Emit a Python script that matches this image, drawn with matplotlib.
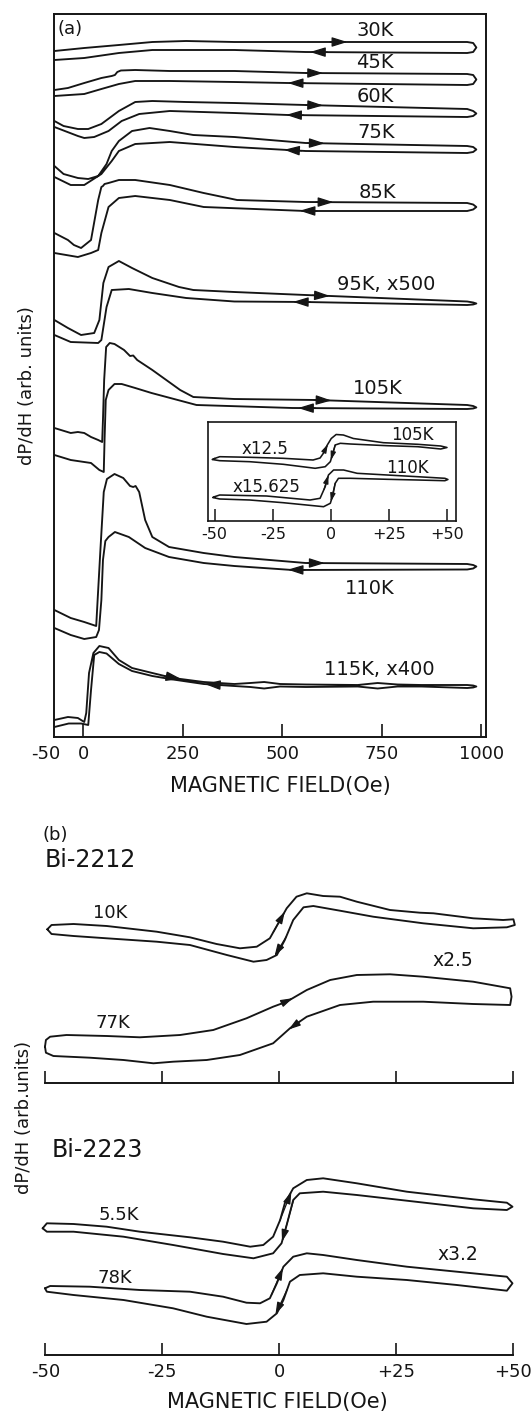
import numpy as np
import matplotlib
matplotlib.use('Agg')
import matplotlib.pyplot as plt
from matplotlib.transforms import ScaledTranslation

plt.rcParams['font.family'] = ['DejaVu Sans']
INK = '#151515'

# ---------------- (a) field sweeps up to 1000 Oe, dP/dH (arb. units, offset traces)
# branches: [field Oe, signal]; *_up = increasing field, *_dn = decreasing field
a30_up = [[-72, 686], [3, 689], [90, 692], [174, 695], [259, 696], [380, 695], [644, 695], [965, 695], [980, 694], [988, 689.5]]
a30_dn = [[980, 685], [965, 684], [559, 685], [380, 687], [174, 687], [90, 684], [3, 679], [-72, 677]]

a45_up = [[-72, 647], [-38, 649], [3, 654], [46, 659], [72, 661], [80, 662], [86, 665], [95, 666.5], [131, 667], [218, 666],
          [380, 666], [559, 664], [965, 663], [980, 662], [988, 657.5]]
a45_dn = [[980, 653], [965, 652], [515, 654], [380, 655], [218, 656], [131, 656], [90, 653], [46, 648], [3, 643], [-72, 641]]

a60_up = [[-72, 616], [-49, 611], [-13, 608], [13, 608], [46, 613], [90, 626], [131, 635], [174, 636], [259, 635], [380, 634],
          [559, 632], [965, 628], [980, 626], [988, 623.5]]
a60_dn = [[980, 621], [965, 620], [515, 622], [380, 624], [218, 626], [141, 623], [97, 616], [64, 606], [28, 600], [3, 599],
          [-13, 601], [-72, 610]]

a75_up = [[-72, 571], [-49, 563], [-13, 559], [13, 558], [38, 561], [59, 573], [72, 586], [90, 596], [123, 606], [167, 609],
          [218, 606], [277, 602], [380, 600], [559, 594], [965, 591], [980, 590], [988, 587.5]]
a75_dn = [[980, 585], [965, 584], [559, 586], [380, 590], [218, 595], [131, 593], [90, 586], [72, 576], [46, 563], [3, 552],
          [-31, 552], [-72, 560]]

a85_up = [[-72, 504], [-38, 497], [-23, 492], [-5, 489], [20, 497], [38, 537], [46, 550], [50, 551], [54, 553], [64, 554],
          [90, 557], [131, 557], [218, 552], [303, 544], [387, 537], [559, 535], [965, 534], [980, 532.5], [988, 530]]
a85_dn = [[980, 527.5], [965, 526], [559, 526], [303, 530], [218, 537], [131, 541], [90, 539], [64, 530], [46, 504], [38, 487],
          [20, 484], [-13, 480], [-72, 484]]

a95_up = [[-72, 417], [-38, 409], [-5, 402], [28, 404], [41, 417], [51, 454], [64, 470], [90, 476], [123, 469], [174, 459],
          [241, 450], [277, 447], [380, 445], [559, 442], [965, 435.5], [980, 434.5], [988, 433.5]]
a95_dn = [[980, 432.5], [965, 432], [559, 435], [380, 435.5], [259, 439], [174, 444], [115, 448], [72, 447], [59, 430],
          [46, 397], [38, 394], [-31, 395], [-72, 402]]

a105_up = [[-72, 309], [-31, 304], [-13, 305], [3, 304], [20, 300], [38, 297], [48, 295], [50, 317], [53, 357], [58, 390],
           [67, 394], [79, 393], [103, 387], [118, 381], [126, 381.5], [136, 377], [174, 367], [244, 347], [277, 340],
           [380, 338], [585, 337], [965, 332], [980, 331], [988, 329.5]]
a105_dn = [[980, 328.5], [965, 328], [526, 329], [285, 332], [172, 344], [131, 349], [97, 353], [79, 353], [64, 347],
           [57, 337], [54, 297], [52, 265], [41, 267], [20, 274], [-31, 277], [-72, 282]]

a110_up = [[-72, 127], [-31, 119], [3, 115], [33, 111], [37, 140], [44, 190], [52, 245], [60, 258], [79, 263], [101, 259],
           [118, 251], [126, 250], [132, 251], [141, 245], [156, 217], [174, 200], [216, 190], [303, 184], [380, 180],
           [559, 174], [965, 173], [980, 172], [988, 170.5]]
a110_dn = [[980, 168.5], [965, 167.5], [526, 167], [380, 171], [303, 174], [216, 180], [156, 189], [115, 200], [80, 205],
           [64, 200], [56, 196], [50, 177], [46, 137], [40, 107], [33, 100], [3, 98], [-31, 102], [-72, 109]]

a115_up = [[-72, 17], [-38, 20], [-13, 19], [3, 15], [8, 24], [15, 64], [26, 84], [41, 91], [64, 89], [90, 77], [123, 69],
           [174, 64], [226, 59], [303, 55], [380, 53], [420, 54], [455, 55], [495, 53], [560, 52.5], [690, 52], [740, 54],
           [790, 52.5], [850, 52], [965, 52], [980, 51.5], [988, 50.5]]
a115_dn = [[980, 49.5], [965, 49], [850, 50.5], [790, 50.5], [740, 48.5], [690, 50.5], [560, 50], [495, 50.5], [455, 48.5],
           [420, 50], [380, 51], [303, 53], [226, 57.5], [174, 61], [123, 66], [90, 73], [59, 83.5], [41, 85], [28, 82],
           [20, 47], [13, 12], [-5, 13.5], [-36, 13.5], [-72, 10]]

a_up = [a30_up, a45_up, a60_up, a75_up, a85_up, a95_up, a105_up, a110_up, a115_up]
a_dn = [a30_dn, a45_dn, a60_dn, a75_dn, a85_dn, a95_dn, a105_dn, a110_dn, a115_dn]
a_labels = ['30K', '45K', '60K', '75K', '85K', '95K, x500', '105K', '110K', '115K, x400']
a_arrow_up = [650, 589, 589, 593, 615, 606, 610, 593, 233]   # field of sweep arrows (Oe)
a_arrow_dn = [584, 528, 524, 519, 558, 541, 554, 528, 320]
a_ticks = [0, 250, 500, 750, 1000]

# inset of (a): +-50 Oe sweeps
i105_up = [[-50, 62.5], [-47.8, 64.3], [-34.9, 63.7], [-20.6, 62.7], [-7.7, 61], [-4.7, 63], [-2.9, 69], [-1.6, 76],
           [0.1, 82.5], [2.2, 86.5], [5.3, 86], [9.6, 82.5], [22.5, 78.3], [37.2, 76.7], [47.1, 75], [49.8, 73.5]]
i105_dn = [[47.1, 72], [37.2, 74.3], [24.2, 75.3], [8.3, 77], [4, 77.7], [1.8, 76], [0.8, 67.7], [-0.3, 59.3],
           [-2.5, 54.3], [-6.8, 52.7], [-20.5, 56.7], [-34.9, 59.3], [-47.8, 60.3], [-51, 61.5]]
i110_up = [[-50, 24.3], [-47.8, 26], [-27.7, 25], [-9, 21], [-4.7, 22.7], [-2.5, 34.3], [-1.1, 46], [1.1, 51], [5.4, 51],
           [11.2, 47.7], [24.1, 46], [37.1, 44.3], [48.9, 42.7], [50.2, 41.5]]
i110_dn = [[48.9, 40.3], [37.1, 41], [24.1, 41.7], [8.3, 42.7], [3.2, 42.7], [1.8, 37.7], [0.8, 26], [-0.3, 17.7],
           [-3.2, 14.3], [-20.5, 18.3], [-34.9, 21], [-47.8, 22], [-50.8, 23.5]]
i_arrow_up = [-2.3, -2.0]
i_arrow_dn = [0.8, 0.8]

# ---------------- (b) +-50 Oe sweeps
b10_up = [[-49.6, 154], [-48.7, 158.3], [-44, 159.3], [-36.9, 157.3], [-26.2, 151.6], [-19.1, 146], [-13.4, 139.3],
          [-8.4, 135], [-4.8, 136.6], [-2, 145], [-0.2, 160], [1.6, 175], [3.7, 186.6], [5.9, 190], [9.4, 187.3],
          [13, 186.6], [16.6, 181.6], [23.7, 173.3], [30.1, 170.6], [33, 170], [41.5, 165], [47.9, 163.3], [50.1, 164],
          [50.4, 158.3]]
b10_dn = [[48.7, 156], [41.5, 155], [30.8, 160], [20.1, 166.6], [13, 172.6], [7.3, 177.3], [5.2, 176], [3, 163.3],
          [1.2, 143.3], [-0.5, 128.3], [-2.7, 123.3], [-5.5, 121.6], [-11.2, 128.3], [-19.1, 138.3], [-26.2, 141.6],
          [-36.9, 145], [-44, 147.3], [-48.7, 149.3]]
b77_up = [[-50.1, 36.6], [-49.9, 43.3], [-49, 46.6], [-45.5, 48.3], [-36.9, 47.3], [-29.8, 46], [-21.2, 48.3],
          [-14.1, 53.3], [-7, 65], [-1.3, 76.6], [1.6, 81.6], [5.9, 93.3], [10.9, 103.3], [16.6, 108.3], [23.7, 109],
          [30.8, 106.6], [41.5, 101.6], [49.4, 95], [49.7, 86.6]]
b77_dn = [[49.4, 78.3], [41.5, 79.3], [30.8, 81.6], [20.1, 81.6], [13, 78.3], [5.9, 66.6], [2.3, 55], [-1.3, 40],
          [-8.4, 28.3], [-15.5, 23.3], [-22.7, 21.6], [-26.9, 20], [-33.3, 23.3], [-40.5, 25.6], [-48.3, 27.3],
          [-49.9, 30.6]]
b55_up = [[-50.6, 126.7], [-49.7, 131.7], [-44, 131], [-36.9, 128.3], [-29.8, 123.3], [-19.1, 117.7], [-12, 113.3],
          [-6.2, 108.3], [-3.4, 110], [-1.3, 118.3], [0.2, 135], [1.2, 151.7], [3, 166.7], [5.9, 175], [9.4, 176.7],
          [16.6, 171.7], [27.3, 163.3], [41.5, 155.7], [48.7, 152.3], [49.9, 148.3]]
b55_dn = [[48.7, 145], [41.5, 146.7], [27.3, 154.3], [16.6, 160], [9.4, 163.3], [4.4, 161.7], [3, 155], [1.6, 130],
          [0.5, 111.7], [-1.3, 101.7], [-5.5, 96.7], [-12, 101], [-22.7, 110], [-33.3, 118.3], [-44, 123.3],
          [-49.7, 123.3]]
b78_up = [[-50.1, 66.7], [-49, 69], [-40.5, 68.3], [-29.8, 65], [-19.1, 63.3], [-12, 58.3], [-7, 52.3], [-4.1, 51.7],
          [-2, 56.7], [-0.5, 71.7], [0.9, 88.3], [3, 98.3], [5.9, 101.7], [9.4, 100], [16.6, 95], [27.3, 88.3],
          [38, 83.3], [48.7, 78.3], [49.9, 71.7]]
b78_dn = [[48.7, 64.3], [38, 70], [27.3, 75], [16.6, 78.3], [9.4, 81.7], [4.4, 80], [2.3, 73.3], [0.9, 55], [-0.5, 41.7],
          [-2.7, 33.3], [-7, 31], [-15.5, 38.3], [-22.7, 46.7], [-33.3, 55], [-44, 60], [-49.7, 63.3]]
b_arrow_up = {'10K': 0.2, '77K': 1.9, '5.5K': 1.6, '78K': -0.2}
b_arrow_dn = {'10K': 0.0, '77K': 3.0, '5.5K': 1.6, '78K': 0.2}
b_ticks = [-50, -25, 0, 25, 50]
b_ticklabels = ['-50', '-25', '0', '+25', '+50']

# ---------------- helpers
W, H = 531, 1415


def box(l, t, r, b):
    return [l / W, 1 - b / H, (r - l) / W, (b - t) / H]


def branch_xy(br):
    a = np.asarray(br, float)
    return a[:, 0], a[:, 1]


def draw_loop(ax, up, dn, closed=False, lw=1.35):
    pts = list(up) + list(dn)
    if closed:
        pts.append(up[0])
    h, p = branch_xy(pts)
    ax.plot(h, p, color=INK, lw=lw, solid_joinstyle='round', solid_capstyle='round')


def sweep_arrow(ax, br, c, back, fwd, ms, rising=True):
    h, p = branch_xy(br)
    o = np.argsort(h)
    h, p = h[o], p[o]
    s = 1 if rising else -1
    t0, t1 = c - s * back, c + s * fwd
    ax.annotate('', xy=(t1, np.interp(t1, h, p)), xytext=(t0, np.interp(t0, h, p)),
                arrowprops=dict(arrowstyle='-|>,head_length=0.45,head_width=0.14', mutation_scale=ms,
                                color=INK, lw=0.9, shrinkA=0, shrinkB=0))


fig = plt.figure(figsize=(W / 100, H / 100), dpi=100)

# ---------------- panel (a)
ax = fig.add_axes(box(54, 14, 485.5, 737))
ax.set_xlim(-73, 1011)
ax.set_ylim(0, 723)
for up, dn, lab, cu, cd in zip(a_up, a_dn, a_labels, a_arrow_up, a_arrow_dn):
    draw_loop(ax, up, dn)
    sweep_arrow(ax, up, cu, 30, 14, 21, rising=True)
    sweep_arrow(ax, dn, cd, 30, 14, 21, rising=False)

lab_h = [733, 733, 733, 736, 740, 762, 740, 721, 743]
lab_p = [706, 674, 640, 605, 545, 452, 348, 148, 67]
for lab, x, y in zip(a_labels, lab_h, lab_p):
    ax.text(x, y, lab, fontsize=14, ha='center', va='center', color=INK)
ax.text(0.008, 0.979, '(a)', transform=ax.transAxes, fontsize=13, ha='left', va='center', color=INK)

ax.set_xticks(a_ticks, [str(t) for t in a_ticks])
ax.set_xticks([-50], ['-50'], minor=True)
ax.set_yticks([])
ax.tick_params(axis='x', which='major', direction='in', length=9.5, width=1.2, labelsize=13, pad=6, colors=INK)
ax.tick_params(axis='x', which='minor', length=0, labelsize=13, pad=6, colors=INK)
for lab in ax.get_xticklabels(minor=True):
    lab.set_transform(lab.get_transform() + ScaledTranslation(-0.175, 0, fig.dpi_scale_trans))
for sp in ax.spines.values():
    sp.set_linewidth(1.4)
    sp.set_color(INK)

# inset
ai = fig.add_axes(box(208.3, 421.7, 455.6, 521))
ai.set_xlim(-52.7, 53.5)
ai.set_ylim(0, 99.3)
for up, dn, cu, cd in zip([i105_up, i110_up], [i105_dn, i110_dn], i_arrow_up, i_arrow_dn):
    draw_loop(ai, up, dn, closed=True, lw=1.15)
    sweep_arrow(ai, up, cu, 1.0, 0.9, 11, rising=True)
    sweep_arrow(ai, dn, cd, 1.0, 0.9, 11, rising=False)
ai.text(-28.4, 71.7, 'x12.5', fontsize=12, ha='center', va='center', color=INK)
ai.text(35, 86, '105K', fontsize=12, ha='center', va='center', color=INK)
ai.text(33, 52.7, '110K', fontsize=12, ha='center', va='center', color=INK)
ai.text(-27.7, 34.3, 'x15.625', fontsize=12, ha='center', va='center', color=INK)
ai.set_xticks(b_ticks, b_ticklabels)
ai.set_yticks([])
ai.tick_params(axis='x', direction='in', length=9, width=1.1, labelsize=11.5, pad=4, colors=INK)
for sp in ai.spines.values():
    sp.set_linewidth(1.2)
    sp.set_color(INK)

fig.text(27 / W, 1 - 386 / H, 'dP/dH (arb. units)', rotation=90, fontsize=13, ha='center', va='center', color=INK)
fig.text(280 / W, 1 - 786 / H, 'MAGNETIC FIELD(Oe)', fontsize=15, ha='center', va='center', color=INK)

# ---------------- panel (b)
def b_axes(top, bottom, ymax, labels):
    a = fig.add_axes(box(36.1, top, 522.3, bottom))
    a.set_xlim(-52, 52)
    a.set_ylim(0, ymax)
    for s in ['top', 'left', 'right']:
        a.spines[s].set_visible(False)
    a.spines['bottom'].set_bounds(-50, 50)
    a.spines['bottom'].set_linewidth(1.4)
    a.spines['bottom'].set_color(INK)
    a.set_yticks([])
    a.set_xticks(b_ticks, b_ticklabels if labels else [''] * len(b_ticks))
    a.tick_params(axis='x', direction='in', length=8.6, width=1.2, labelsize=13, pad=6, colors=INK)
    a.patch.set_alpha(0)
    return a


bt = b_axes(880, 1083.3, 203.3, False)
for up, dn, key in [(b10_up, b10_dn, '10K'), (b77_up, b77_dn, '77K')]:
    draw_loop(bt, up, dn, closed=True)
    sweep_arrow(bt, up, b_arrow_up[key], 1.5, 1.0, 16, rising=True)
    sweep_arrow(bt, dn, b_arrow_dn[key], 1.5, 1.0, 16, rising=False)
bt.text(-36.2, 170, '10K', fontsize=13, ha='center', va='center', color=INK)
bt.text(-35.5, 60, '77K', fontsize=13, ha='center', va='center', color=INK)
bt.text(37.2, 123, 'x2.5', fontsize=13.5, ha='center', va='center', color=INK)

bb = b_axes(1160, 1355, 195, True)
for up, dn, key in [(b55_up, b55_dn, '5.5K'), (b78_up, b78_dn, '78K')]:
    draw_loop(bb, up, dn, closed=True)
    sweep_arrow(bb, up, b_arrow_up[key], 1.5, 1.0, 16, rising=True)
    sweep_arrow(bb, dn, b_arrow_dn[key], 1.5, 1.0, 16, rising=False)
bb.text(-34.4, 140, '5.5K', fontsize=13, ha='center', va='center', color=INK)
bb.text(-35.1, 76.7, '78K', fontsize=13, ha='center', va='center', color=INK)
bb.text(38.3, 100, 'x3.2', fontsize=13.5, ha='center', va='center', color=INK)

fig.text(43 / W, 1 - 835 / H, '(b)', fontsize=13, ha='left', va='center', color=INK)
fig.text(45 / W, 1 - 860 / H, 'Bi-2212', fontsize=17, ha='left', va='center', color=INK)
fig.text(52 / W, 1 - 1150 / H, 'Bi-2223', fontsize=17, ha='left', va='center', color=INK)
fig.text(24 / W, 1 - 1117 / H, 'dP/dH (arb.units)', rotation=90, fontsize=13, ha='center', va='center', color=INK)
fig.text(277 / W, 1 - 1402 / H, 'MAGNETIC FIELD(Oe)', fontsize=15, ha='center', va='center', color=INK)

fig.savefig('out.png', dpi=100)
